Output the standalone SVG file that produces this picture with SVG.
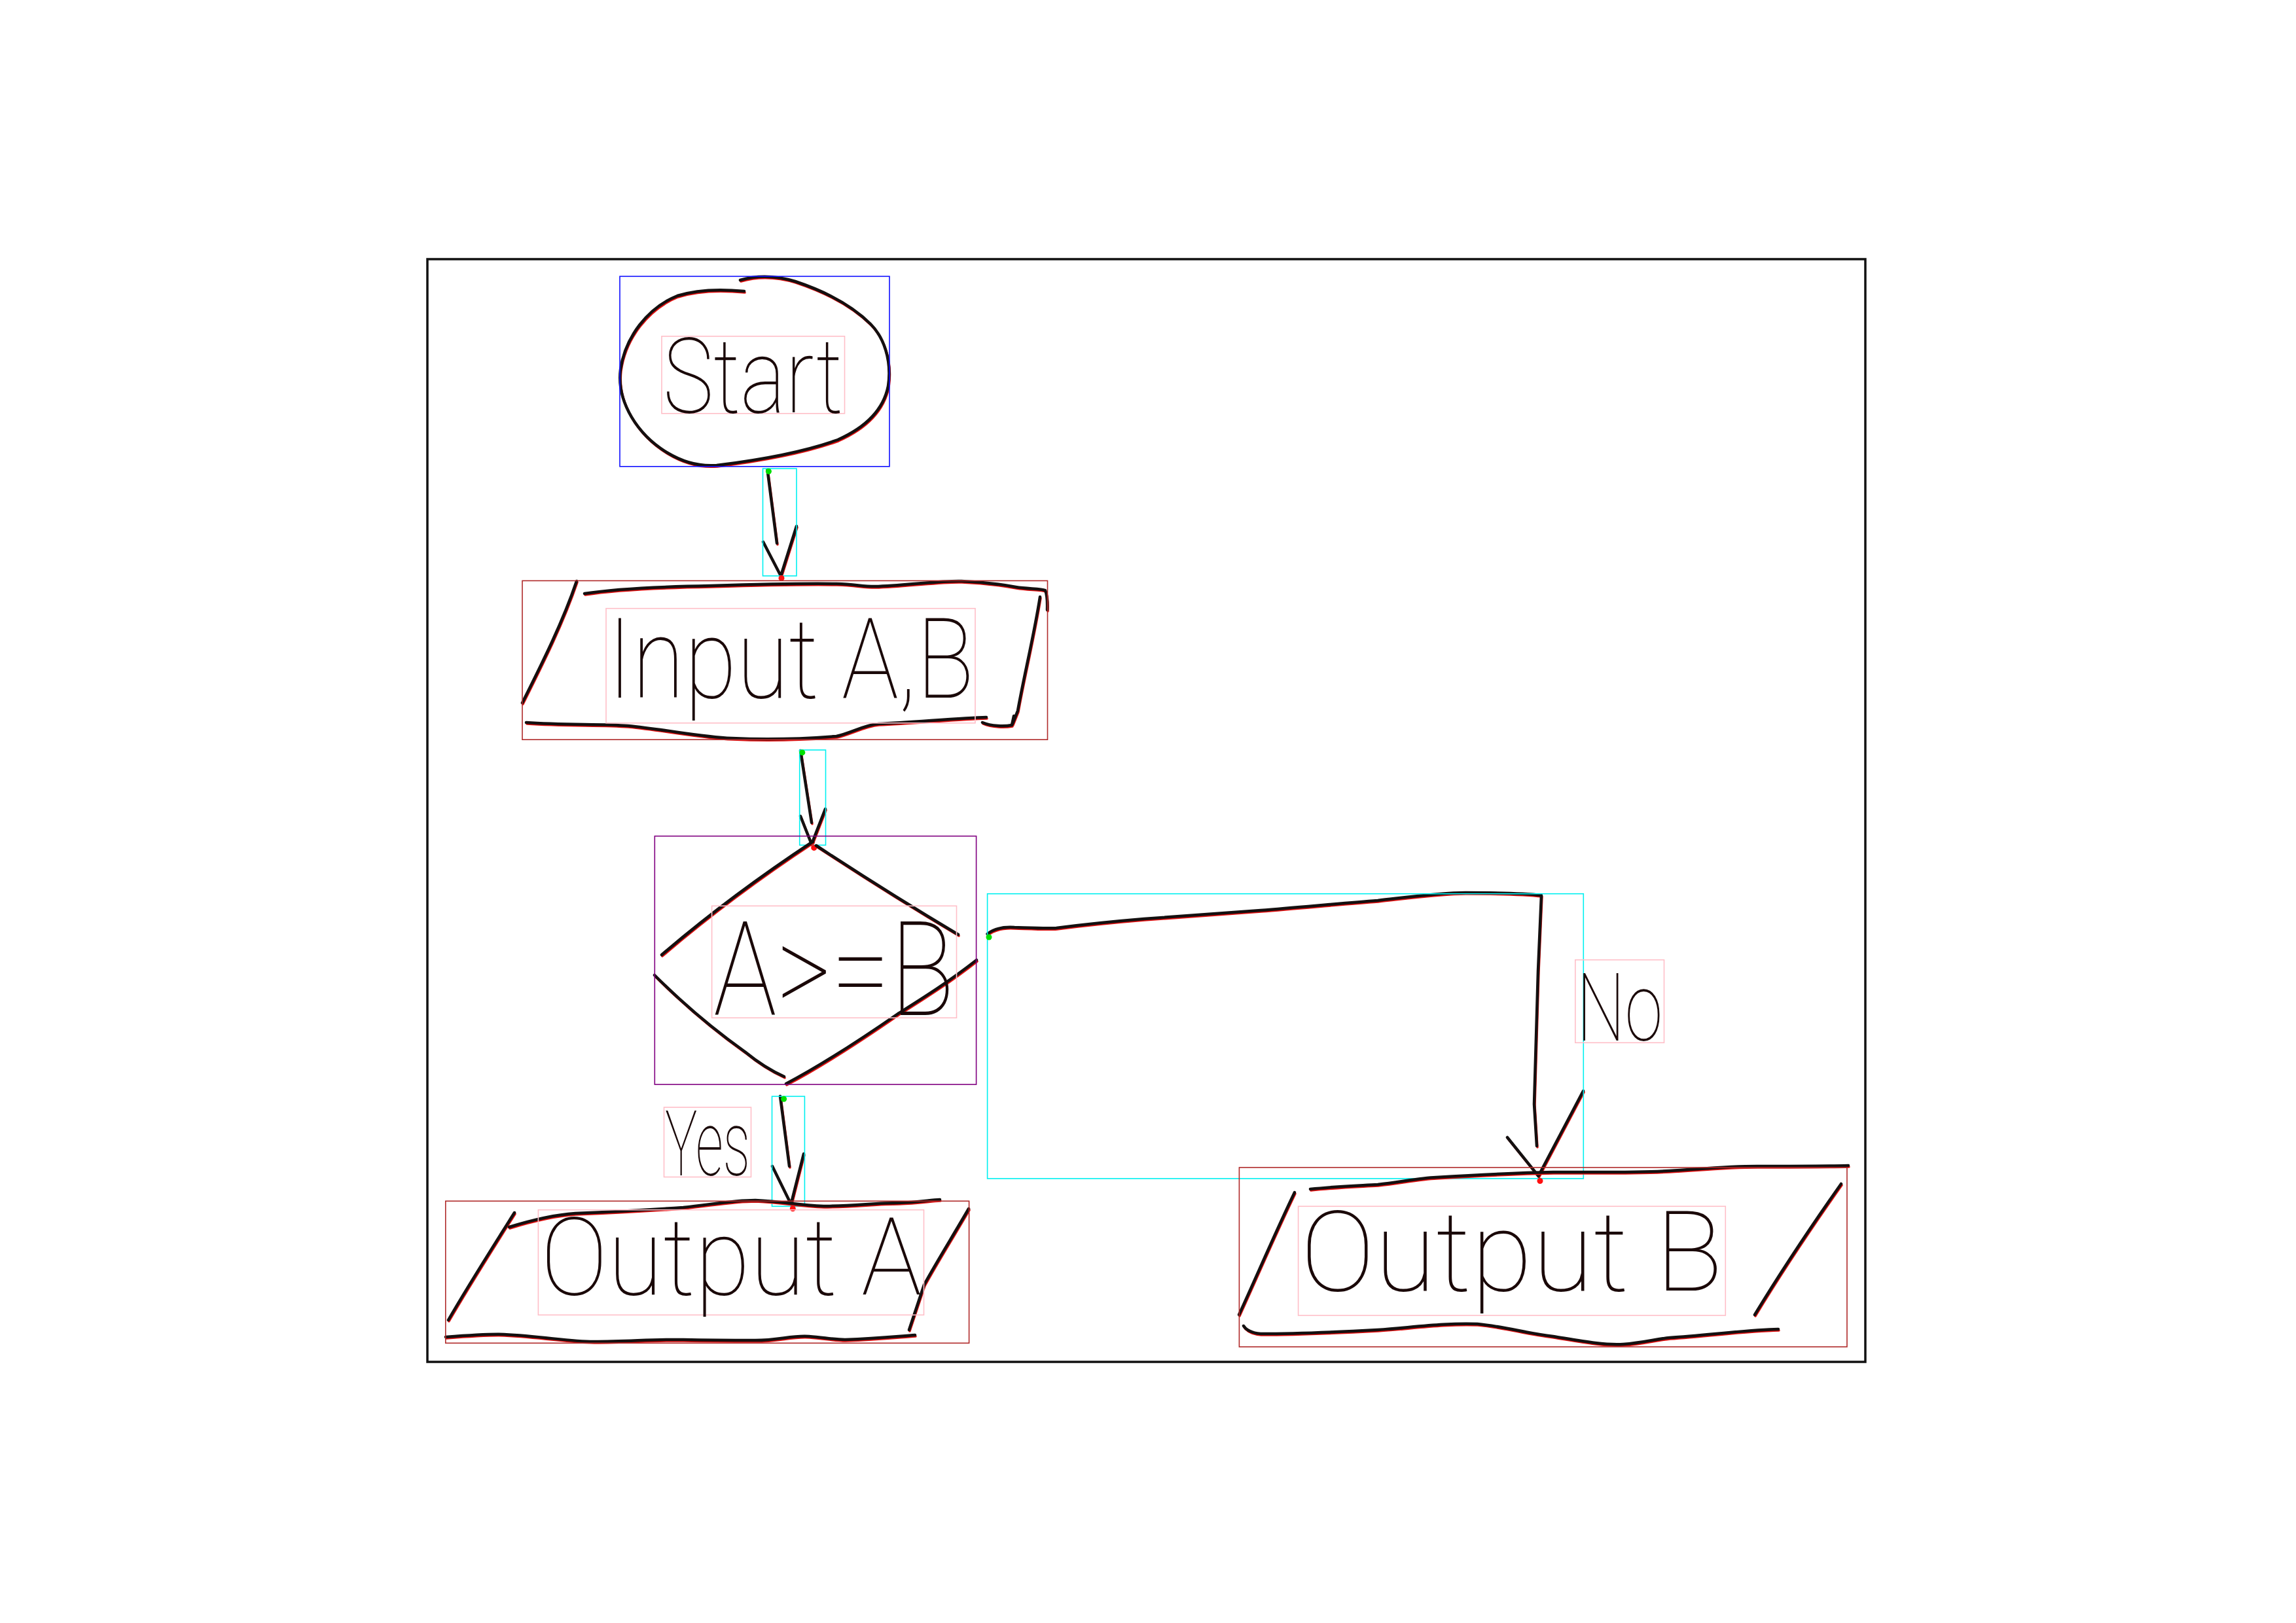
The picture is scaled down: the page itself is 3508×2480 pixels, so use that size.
<svg xmlns="http://www.w3.org/2000/svg" xmlns:xlink="http://www.w3.org/1999/xlink" width="3508" height="2480" viewBox="0 0 3508 2480">
<style>
.blk{fill:none;stroke:#141010;stroke-width:4.5;stroke-linecap:round;stroke-linejoin:round}
.red{fill:none;stroke:#e01010;stroke-width:3.5;stroke-linecap:round;stroke-linejoin:round}
.bx{fill:none;stroke-width:1.6}
.nodebox{stroke:#b02a2a}
.txtbox{stroke:#ffbfc8}
.conbox{stroke:#00f0f0}
.lbl{font-family:Roboto,Lato,"Open Sans","Liberation Sans",sans-serif;fill:#1a0808;font-weight:100}
.gdot{fill:#00e000}
.rdot{fill:#ff1010}
</style>
<defs>
<g id="inkStart">
<path d="M1137,445 C1095,441 1060,444 1035,452 C990,470 955,515 948,565 C942,615 975,665 1020,692 C1045,707 1070,713 1095,711 C1160,703 1230,690 1280,672 C1325,652 1350,625 1357,590 C1363,550 1350,515 1330,495 C1300,465 1260,445 1215,430 C1185,421 1155,421 1131,428"/>
</g>
<g id="inkInput">
<path d="M881,888 C860,950 830,1010 798,1074"/>
<path d="M893,907 C950,898 1030,896 1086,895 C1150,893 1220,891 1278,892 C1310,893 1320,897 1342,896 C1400,893 1440,887 1469,888 C1500,889 1530,893 1552,897 C1570,900 1590,899 1597,902 C1601,912 1600,924 1600,932"/>
<path d="M1589,912 C1580,970 1565,1030 1555,1086 L1547,1106"/>
<path d="M1501,1104 C1515,1110 1535,1110 1546,1108 L1549,1094"/>
<path d="M804,1104 C860,1108 920,1106 959,1109 C1020,1115 1070,1126 1118,1128 C1180,1131 1240,1128 1278,1125 C1300,1120 1320,1108 1342,1106 C1400,1103 1470,1097 1507,1096"/>
</g>
<g id="inkDecision">
<path d="M1242,1286 C1160,1340 1080,1400 1011,1459"/>
<path d="M1247,1292 C1320,1340 1400,1390 1464,1428"/>
<path d="M1000,1490 C1050,1540 1100,1580 1138,1607 C1160,1625 1180,1637 1198,1645"/>
<path d="M1492,1467 C1450,1500 1410,1525 1372,1549 C1320,1585 1260,1625 1201,1656"/>
</g>
<g id="inkOutA">
<path d="M778,1875 C820,1862 850,1856 879,1854 C950,1851 1000,1848 1044,1845 C1090,1840 1120,1834 1154,1834 C1200,1836 1230,1843 1263,1843 C1310,1842 1340,1838 1373,1838 C1400,1837 1420,1834 1436,1833"/>
<path d="M786,1853 C750,1910 715,1965 685,2017"/>
<path d="M1480,1847 C1455,1890 1430,1930 1412,1963 L1389,2032"/>
<path d="M681,2043 C720,2040 750,2038 770,2039 C830,2042 870,2050 907,2050 C960,2050 1000,2046 1044,2047 C1090,2048 1120,2048 1154,2048 C1190,2048 1210,2040 1236,2042 C1260,2044 1275,2047 1291,2047 C1340,2045 1370,2042 1398,2040"/>
</g>
<g id="inkOutB">
<path d="M2002,1817 C2040,1813 2070,1812 2105,1810 C2140,1806 2170,1800 2194,1799 C2260,1795 2320,1792 2373,1791 C2440,1791 2500,1792 2551,1789 C2600,1786 2640,1782 2685,1782 C2740,1782 2790,1782 2824,1781"/>
<path d="M1978,1822 C1950,1880 1920,1950 1893,2009"/>
<path d="M2813,1809 C2770,1870 2720,1945 2681,2009"/>
<path d="M1900,2026 C1905,2034 1915,2037 1926,2038 C1990,2038 2050,2035 2105,2032 C2160,2028 2210,2021 2257,2023 C2300,2027 2330,2037 2373,2042 C2410,2048 2450,2056 2480,2054 C2510,2052 2530,2046 2551,2044 C2610,2040 2670,2032 2717,2031"/>
</g>
<g id="inkConn">
<path d="M1172.5,718 L1187,830"/>
<path d="M1166,828 L1193,880 L1217,804"/>
<path d="M1223,1147 L1240,1257"/>
<path d="M1223,1247 L1240,1290 L1261,1236"/>
<path d="M1192,1675 L1206,1782"/>
<path d="M1180,1782 L1208.5,1840 L1228,1763"/>
<path d="M1508.6,1427 C1520,1418 1535,1416 1550,1417 C1580,1418 1600,1419 1614,1418 C1660,1412 1700,1408 1748,1404 C1810,1399 1870,1395 1926,1391 C1990,1386 2050,1380 2105,1376 C2150,1371 2200,1364 2239,1364 C2290,1364 2330,1365 2355,1368 L2350,1483 L2344,1687 L2348,1751"/>
<path d="M2303,1738 L2350.5,1797 L2419,1667"/>
</g>
</defs>
<rect x="0" y="0" width="3508" height="2480" fill="#ffffff"/>
<rect id="frame" x="653" y="396" width="2197" height="1685" fill="none" stroke="#111" stroke-width="3.5"/>

<g id="connectors">
<use xlink:href="#inkConn" class="red" transform="translate(1,2)"/>
<use xlink:href="#inkConn" class="blk"/>
<rect class="bx conbox" x="1165.5" y="716" width="51.5" height="164"/>
<rect class="bx conbox" x="1221.7" y="1146" width="39.8" height="145.4"/>
<rect class="bx conbox" x="1179.5" y="1675.3" width="49.9" height="168"/>
<rect class="bx conbox" x="1508.6" y="1365.7" width="910.7" height="435.2"/>
<circle class="gdot" cx="1174.4" cy="720.3" r="4.5"/>
<circle class="rdot" cx="1194" cy="883.4" r="4.5"/>
<circle class="gdot" cx="1225.8" cy="1149.9" r="4.5"/>
<circle class="rdot" cx="1243.7" cy="1295.4" r="4.5"/>
<circle class="gdot" cx="1197.6" cy="1679.3" r="4.5"/>
<circle class="rdot" cx="1211.3" cy="1846.7" r="4.5"/>
<circle class="gdot" cx="1511" cy="1432" r="4.5"/>
<circle class="rdot" cx="2353" cy="1804.5" r="4.5"/>
<g id="label-yes">
<rect class="bx txtbox" x="1014.5" y="1692" width="133" height="106.5"/>
<text class="lbl" x="1016" y="1796" font-size="140" textLength="130" lengthAdjust="spacingAndGlyphs">Yes</text>
</g>
<g id="label-no">
<rect class="bx txtbox" x="2406.8" y="1466.7" width="135.7" height="126.6"/>
<text class="lbl" x="2409" y="1590" font-size="145" textLength="131" lengthAdjust="spacingAndGlyphs">No</text>
</g>
</g>

<g id="node-start">
<use xlink:href="#inkStart" class="red" transform="translate(1,2)"/>
<use xlink:href="#inkStart" class="blk"/>
<rect class="bx" stroke="#1010ff" x="947" y="422.3" width="412" height="290.5"/>
<rect class="bx txtbox" x="1011" y="513.8" width="279.5" height="118"/>
<text class="lbl" x="1013" y="630" font-size="160" textLength="275" lengthAdjust="spacingAndGlyphs">Start</text>
</g>

<g id="node-input">
<use xlink:href="#inkInput" class="red" transform="translate(1,2)"/>
<use xlink:href="#inkInput" class="blk"/>
<rect class="bx nodebox" x="798" y="887.4" width="802.5" height="242.8"/>
<rect class="bx txtbox" x="926" y="929.7" width="564" height="175.1"/>
<text class="lbl" x="928" y="1066" font-size="170" textLength="560" lengthAdjust="spacingAndGlyphs">Input A,B</text>
</g>

<g id="node-decision">
<use xlink:href="#inkDecision" class="red" transform="translate(1,2)"/>
<use xlink:href="#inkDecision" class="blk"/>
<rect class="bx" stroke="#800080" x="1000.3" y="1277.6" width="491.3" height="379.5"/>
<rect class="bx txtbox" x="1087.6" y="1384.3" width="373.9" height="171"/>
<text class="lbl" x="1090" y="1551" font-size="200" textLength="368" lengthAdjust="spacingAndGlyphs">A&gt;=B</text>
</g>

<g id="node-output-a">
<use xlink:href="#inkOutA" class="red" transform="translate(1,2)"/>
<use xlink:href="#inkOutA" class="blk"/>
<rect class="bx nodebox" x="680.8" y="1835.3" width="799.8" height="217"/>
<rect class="bx txtbox" x="822.4" y="1848.7" width="589.1" height="160.6"/>
<text class="lbl" x="826" y="1978" font-size="165" textLength="582" lengthAdjust="spacingAndGlyphs">Output A</text>
</g>

<g id="node-output-b">
<use xlink:href="#inkOutB" class="red" transform="translate(1,2)"/>
<use xlink:href="#inkOutB" class="blk"/>
<rect class="bx nodebox" x="1893.4" y="1784" width="928.6" height="274"/>
<rect class="bx txtbox" x="1983.6" y="1843.3" width="652.7" height="166.7"/>
<text class="lbl" x="1987" y="1972" font-size="170" textLength="645" lengthAdjust="spacingAndGlyphs">Output B</text>
</g>
</svg>
